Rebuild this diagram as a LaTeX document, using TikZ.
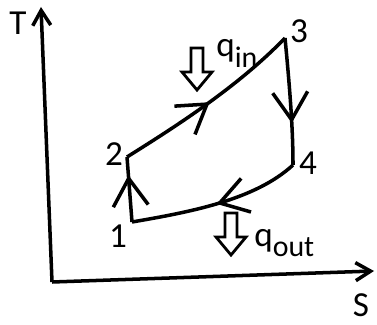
\documentclass[tikz,border=0pt]{standalone}
\usepackage{fontspec}
\setmainfont{Carlito}
\usetikzlibrary{arrows.meta, decorations.markings}

\begin{document}
\begin{tikzpicture}[
  x=0.02cm, y=-0.02cm,
  curve/.style={line width=2pt, line join=round},
  axis/.style={line width=2pt, -{Straight Barb[length=0.3cm, width=0.36cm]}},
  midarrow/.style={postaction={decorate}, decoration={markings,
    mark=at position #1 with {\arrow{Straight Barb[length=0.55cm, width=0.7cm]}}}},
  lbl/.style={font=\fontsize{20}{20}\selectfont, inner sep=0pt},
  heatarrow/.pic={\draw[line width=1.6pt] (-6,0) -- (-6,24) -- (-15,24) -- (0,42) -- (15,24) -- (6,24) -- (6,0) -- cycle;}
]
  \useasboundingbox (0,0) rectangle (377,324);

  \coordinate (O) at (52,282);
  \coordinate (Tend) at (41,7);
  \coordinate (Send) at (374,271);
  \draw[axis] (O) -- (Tend);
  \draw[axis] (O) -- (Send);
  \node[lbl] (T) at (18,23) {T};
  \node[lbl] (S) at (361,305) {S};

  \coordinate (p1) at (132,222);
  \coordinate (p2) at (127,157);
  \coordinate (p3) at (285,38);
  \coordinate (p4) at (293,165);

  \draw[curve, midarrow=0.72] (p1) -- (p2);
  \draw[curve, midarrow=0.5] (p2) .. controls (165,133) and (235,90) .. (p3);
  \draw[curve, midarrow=0.67] (p3) .. controls (290,90) and (293,130) .. (p4);
  \draw[curve, midarrow=0.5] (p4) .. controls (255,200) and (190,212) .. (p1);

  \node[lbl] (n1) at (118,236) {1};
  \node[lbl] (n2) at (114,154) {2};
  \node[lbl] (n3) at (299,31) {3};
  \node[lbl] (n4) at (308,163) {4};

  \pic at (197,48) {heatarrow};
  \pic at (231,213) {heatarrow};
  \node[lbl, anchor=base west] (qin) at (216,57) {q\raisebox{-6pt}{\fontsize{17}{17}\selectfont in}};
  \node[lbl, anchor=base west] (qout) at (254,246) {q\raisebox{-6pt}{\fontsize{17}{17}\selectfont out}};
\end{tikzpicture}
\end{document}
